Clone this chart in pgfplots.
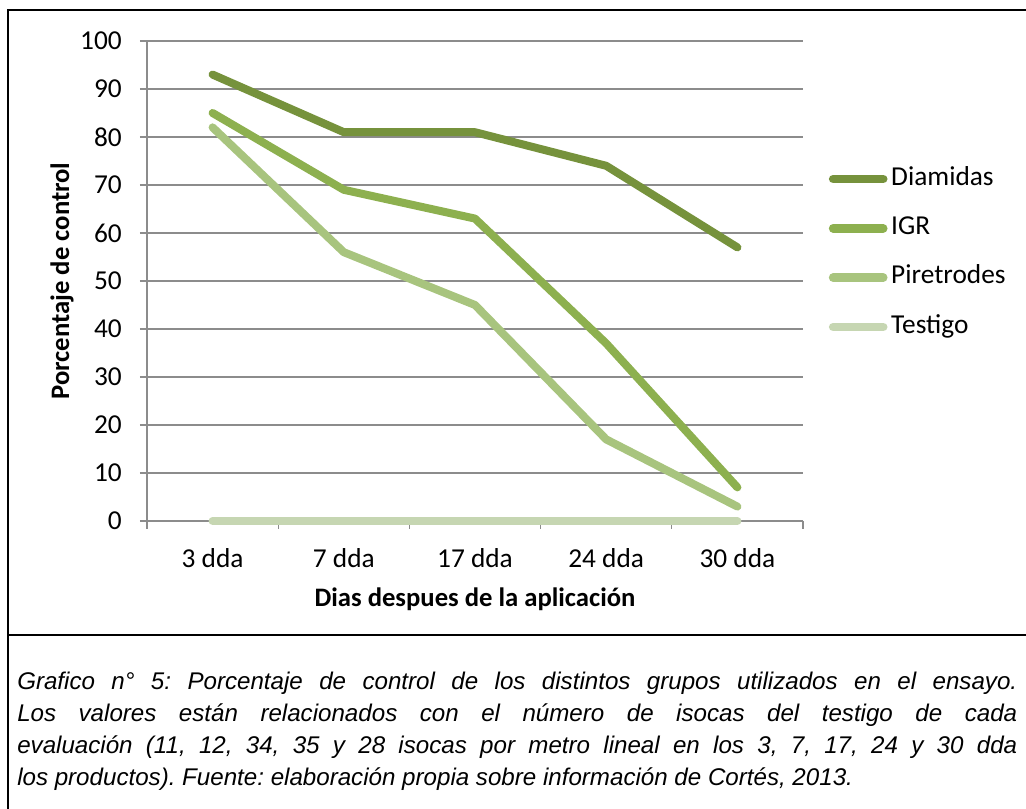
\documentclass[border=0pt]{standalone}
\usepackage{fontspec}
\setmainfont{Carlito}
\newfontfamily\arialfont{Liberation Sans}
\usepackage{pgfplots}
\pgfplotsset{compat=1.18}
\definecolor{cDia}{HTML}{76923C}
\definecolor{cIGR}{HTML}{8DB04F}
\definecolor{cPir}{HTML}{A8C47E}
\definecolor{cTes}{HTML}{C6D6B2}
\definecolor{gridc}{HTML}{8C8C8C}
\begin{document}
\begin{tikzpicture}
\path[use as bounding box] (0,0) rectangle (769.5pt,606.75pt);
\draw[line width=2pt] (6pt,-5pt) -- (6pt,599.25pt) -- (775pt,599.25pt);
\draw[line width=2pt] (6pt,130.5pt) -- (775pt,130.5pt);
\begin{axis}[
  at={(110.25pt,216pt)}, anchor=south west,
  scale only axis, width=492pt, height=360pt,
  xmin=0.5, xmax=5.5, ymin=0, ymax=100, clip=false,
  axis x line=bottom, axis y line=left,
  axis line style={gridc, line width=1pt, -},
  xtick={1,2,3,4,5},
  xticklabels={3 dda,7 dda,17 dda,24 dda,30 dda},
  major x tick style={draw=none},
  minor xtick={0.5,1.5,2.5,3.5,4.5,5.5},
  minor tick length=6pt,
  ytick={0,10,...,100},
  major tick length=5.25pt,
  tick align=outside,
  tick style={gridc, line width=1pt},
  ymajorgrids, grid style={gridc, line width=1pt},
  /pgf/number format/assume math mode=true,
  ticklabel style={font=\fontsize{20.5}{24}\selectfont},
  xticklabel style={anchor=base, inner sep=0pt, yshift=-29.5pt},
  yticklabel style={anchor=east, inner sep=0pt, xshift=-13.5pt},
  xlabel={\textbf{Dias despues de la aplicación}},
  ylabel={\textbf{Porcentaje de control}},
  label style={font=\fontsize{20}{24}\selectfont},
  xlabel style={at={(axis description cs:0.5,-0.162)}, anchor=center},
  ylabel style={at={(axis description cs:-0.1296,0.5)}, anchor=center},
  legend cell align=left,
  legend style={at={(axis description cs:1.039,0.5583)}, anchor=west,
    draw=none, fill=none, inner sep=0pt, row sep=20pt,
    font=\fontsize{20.5}{24}\selectfont,
    nodes={inner sep=0pt, text height=13pt, text depth=4pt},
    /tikz/every odd column/.append style={column sep=2.8pt}},
  legend image code/.code={\draw[#1, line width=6.5pt, line cap=round] (0pt,0pt) -- (37.5pt,0pt);},
  every axis plot/.append style={line width=6pt, line cap=round, line join=round},
]
\addplot[cDia] coordinates {(1,93) (2,81) (3,81) (4,74) (5,57)};
\addlegendentry{Diamidas}
\addplot[cIGR] coordinates {(1,85) (2,69) (3,63) (4,37) (5,7)};
\addlegendentry{IGR}
\addplot[cPir] coordinates {(1,82) (2,56) (3,45) (4,17) (5,3)};
\addlegendentry{Piretrodes}
\addplot[cTes] coordinates {(1,0) (2,0) (3,0) (4,0) (5,0)};
\addlegendentry{Testigo}
\end{axis}
\node[anchor=north west, inner sep=0pt, text width=750pt, align=justify,
  font=\arialfont\itshape\fontsize{18.1}{24}\selectfont] at (12.75pt,103pt)
  {\frenchspacing Grafico n° 5: Porcentaje de control de los distintos grupos utilizados en el ensayo.\linebreak
   Los valores están relacionados con el número de isocas del testigo de cada\linebreak
   evaluación (11, 12, 34, 35 y 28 isocas por metro lineal en los 3, 7, 17, 24 y 30 dda\linebreak
   los productos). Fuente: elaboración propia sobre información de Cortés, 2013.};
\end{tikzpicture}
\end{document}
